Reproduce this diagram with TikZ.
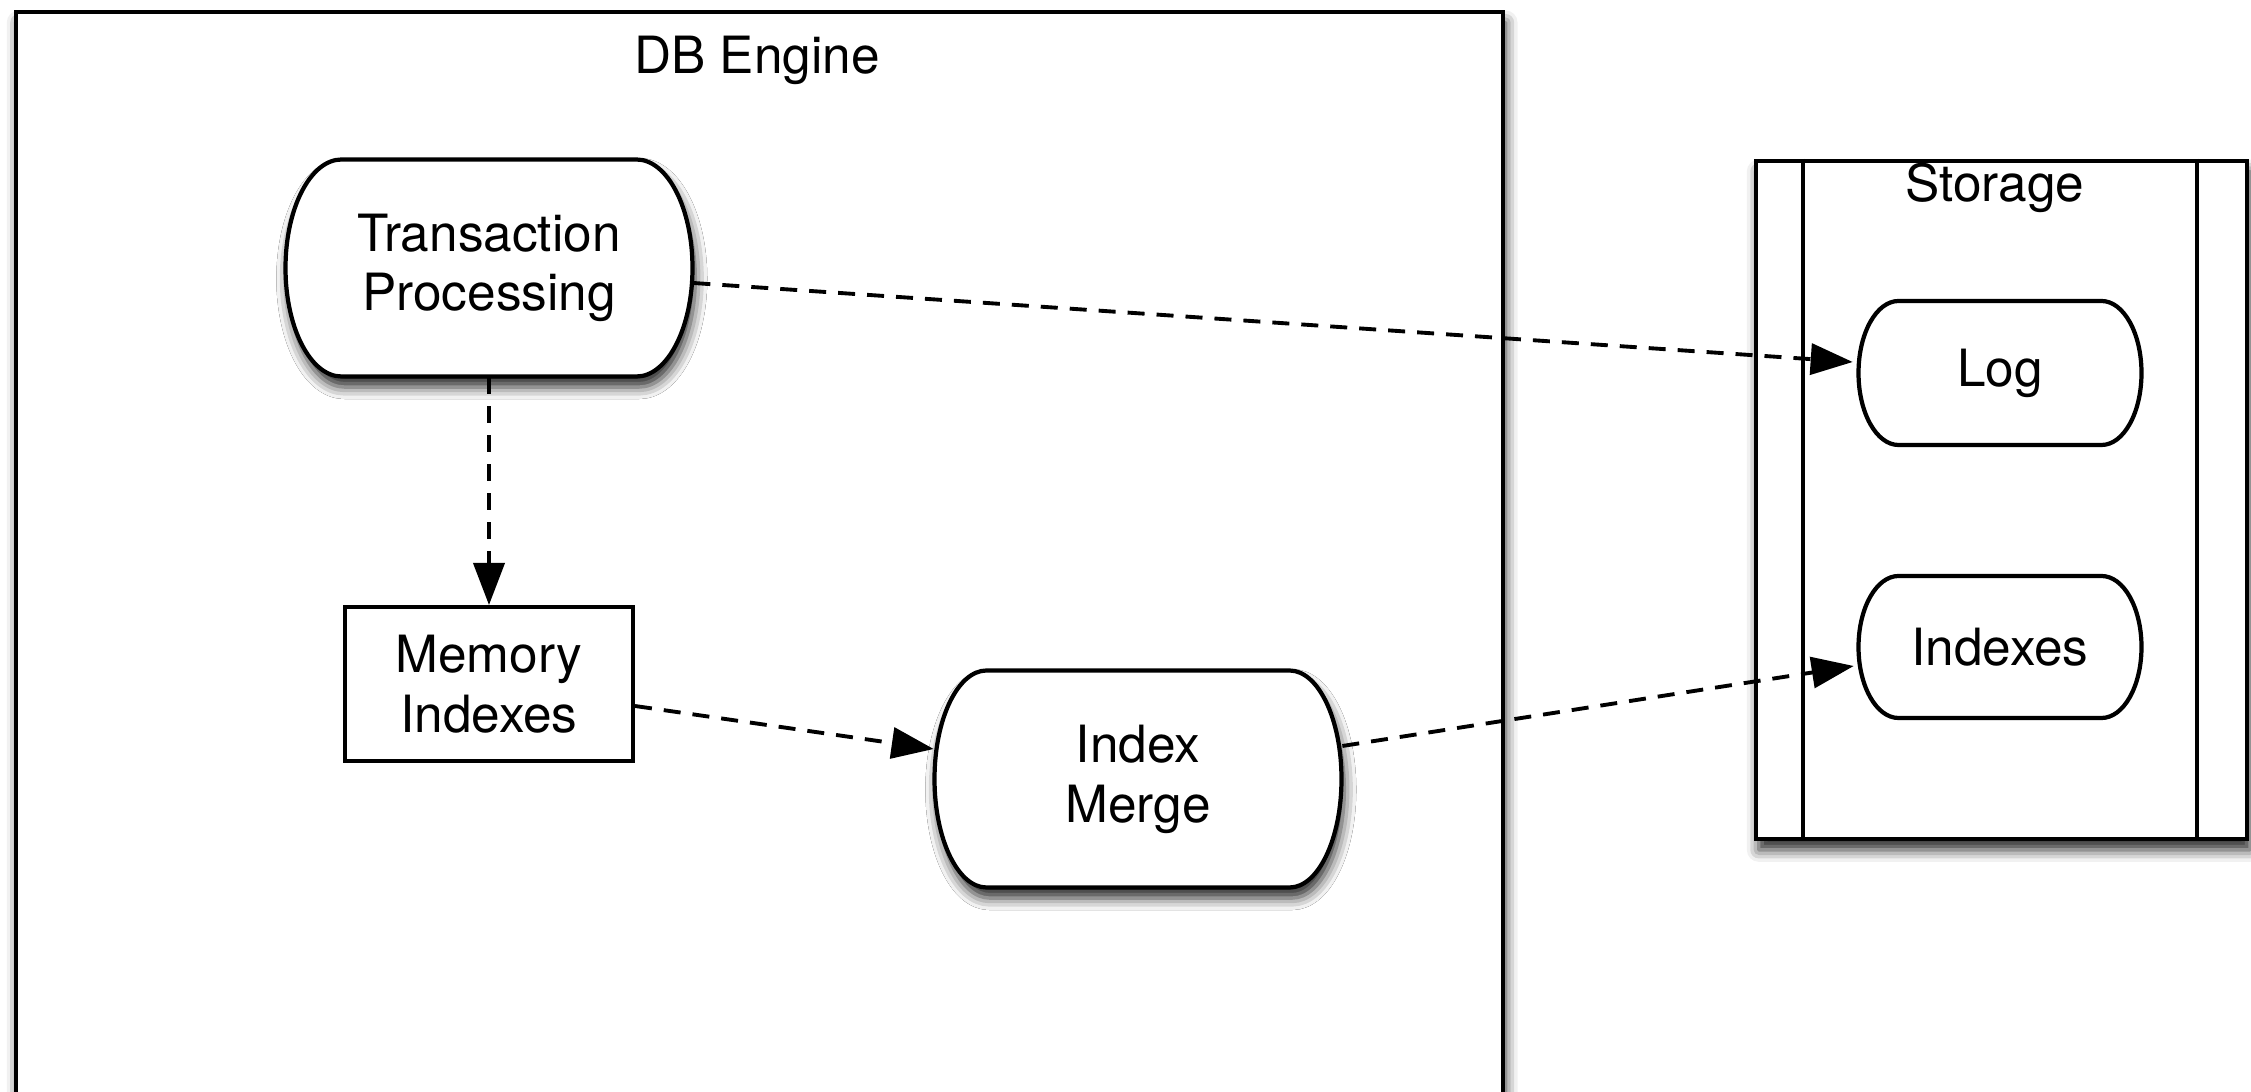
\documentclass[tikz,border=0pt]{standalone}
\usepackage{fontspec}
\setmainfont{TeX Gyre Heros}
\usetikzlibrary{arrows.meta,calc,shadows.blur}

% Capsule: flat top/bottom, half-elliptic sides, plus a named text node on top.
% #1 extra style, #2 name, #3 x, #4 y, #5 half width, #6 half height, #7 side radius
\newcommand\capsuleat[7][]{%
  \path[capsule,#1] (#3-#5+#7,#4+#6) -- (#3+#5-#7,#4+#6)
    arc[start angle=90,end angle=-90,x radius=#7,y radius=#6]
    -- (#3-#5+#7,#4-#6)
    arc[start angle=270,end angle=90,x radius=#7,y radius=#6] -- cycle;
  \node[minimum width=#5*0.02cm, minimum height=#6*0.02cm] (#2) at (#3,#4)}

\begin{document}
\begin{tikzpicture}[x=0.01cm,y=0.01cm,
  every node/.style={font=\fontsize{14.6}{17}\selectfont, align=center, inner sep=0pt},
  softshadow/.style={blur shadow={shadow xshift=0.8pt, shadow yshift=-3pt,
      shadow blur radius=3.4pt, shadow opacity=85}},
  capsule/.style={draw, line width=1.2pt, fill=white},
  panel/.style={draw, line width=1.1pt, fill=white, anchor=north west},
  flow/.style={line width=1.1pt, opacity=1, dash pattern=on 0.17cm off 0.12cm,
      -{Triangle[length=0.42cm,width=0.31cm,fill=black]}},
]
\useasboundingbox (0,0) rectangle (2251,-1092);

% engine container (runs past the lower edge)
\node[panel, softshadow, minimum width=14.86cm, minimum height=11.3cm] (db) at (14,-10) {};
\node (dbt) at (757,-60) {DB Engine};

% storage container with its two side lanes
\node[panel, softshadow, minimum width=4.91cm, minimum height=6.78cm] (st) at (1754,-159) {};
\draw[line width=1.1pt] (1803,-159) -- (1803,-837);
\draw[line width=1.1pt] (2197,-159) -- (2197,-837);
\node (stt) at (1995,-188) {Storage};

% processing steps
\capsuleat[softshadow]{tp}{489}{-268}{203.5}{108.5}{56}{Transaction\\Processing};
\node[draw, line width=1.1pt, fill=white, minimum width=2.88cm, minimum height=1.54cm] (mi) at (489,-684) {Memory\\Indexes};
\capsuleat[softshadow]{im}{1138}{-779}{203.5}{108.5}{52}{Index\\Merge};

% persisted items
\capsuleat{lg}{2000}{-373}{141.5}{72}{40}{Log};
\capsuleat{ix}{2000}{-647}{141.5}{71}{40}{Indexes};

% data flow
\draw[flow] (tp.south) -- (mi.north);
\draw[flow] ($(tp.east)+(0,-15)$) -- ($(lg.west)+(-5,11)$);
\draw[flow] ($(mi.east)+(0,-22)$) -- ($(im.west)+(0,30)$);
\draw[flow] ($(im.east)+(0,33)$) -- ($(ix.west)+(-4,-19)$);
\end{tikzpicture}
\end{document}
